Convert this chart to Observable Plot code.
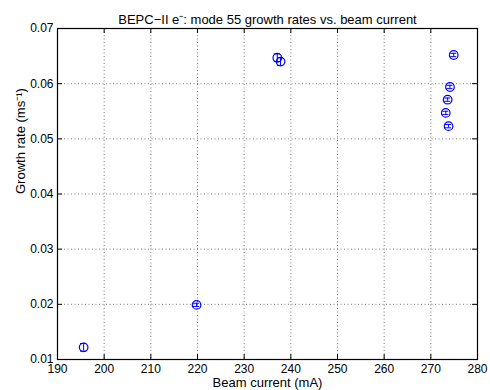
<!DOCTYPE html>
<html>
<head>
<meta charset="utf-8">
<script src="https://cdn.jsdelivr.net/npm/d3@7"></script>
<script src="https://cdn.jsdelivr.net/npm/@observablehq/plot@0.6"></script>
<style>
  html, body { margin: 0; padding: 0; background: #fff; }
  #chart svg { display: block; font-family: "Liberation Sans", Arial, Helvetica, sans-serif; }
</style>
</head>
<body>
<div id="chart"></div>
<script>
// Measured growth rates of the BEPC-II electron ring, mode 55
const current = [195.6, 219.8, 237.1, 237.8, 274.9, 274.1, 273.6, 273.2, 273.8];
const rate    = [0.0122, 0.0199, 0.0647, 0.0640, 0.0652, 0.0594, 0.0571, 0.0547, 0.0523];
const rateErr = [0.0007, 0.0003, 0.0007, 0.0007, 0.0003, 0.0003, 0.0003, 0.0003, 0.0003];

const xTicks = [190, 200, 210, 220, 230, 240, 250, 260, 270, 280];
const yTicks = [0.01, 0.02, 0.03, 0.04, 0.05, 0.06, 0.07];

const titleText = "BEPC\u2212II e\u207B: mode 55 growth rates vs. beam current";
const xLabel = "Beam current (mA)";
const yLabel = "Growth rate (ms\u207B\u00B9)";

const rows = current.map((c, i) => ({current: c, rate: rate[i], err: rateErr[i]}));

const W = 490, H = 390;
const mT = 28, mB = 31, mL = 57, mR = 13;
const frameH = H - mT - mB, frameW = W - mL - mR;
const tickLen = 5;
const blue = "#0000ff";
const grid = {stroke: "#7a7a7a", strokeDasharray: "1,2.5", strokeWidth: 1};
const capHalf = 0.65; // half cap width in mA

const chart = Plot.plot({
  width: W,
  height: H,
  marginTop: mT, marginBottom: mB, marginLeft: mL, marginRight: mR,
  style: {fontSize: "12px", fontFamily: "Liberation Sans, Arial, Helvetica, sans-serif", color: "#000"},
  x: {domain: [190, 280], ticks: xTicks},
  y: {domain: [0.01, 0.07], ticks: yTicks},
  marks: [
    // dotted grid
    Plot.ruleX(xTicks.slice(1, -1), {...grid}),
    Plot.ruleY(yTicks.slice(1, -1), {...grid}),
    // inward ticks on all four sides
    Plot.tickX(xTicks, {x: d => d, insetTop: frameH - tickLen, stroke: "#000"}),
    Plot.tickX(xTicks, {x: d => d, insetBottom: frameH - tickLen, stroke: "#000"}),
    Plot.tickY(yTicks, {y: d => d, insetRight: frameW - tickLen, stroke: "#000"}),
    Plot.tickY(yTicks, {y: d => d, insetLeft: frameW - tickLen, stroke: "#000"}),
    Plot.frame({stroke: "#000", strokeWidth: 1.2}),
    Plot.axisX({ticks: xTicks, tickSize: 0, tickPadding: 5, tickFormat: d => d, label: null, fontSize: 12}),
    Plot.axisY({ticks: yTicks, tickSize: 0, tickPadding: 4, tickFormat: d => d.toFixed(2), label: null, fontSize: 12}),
    // error bars
    Plot.ruleX(rows, {x: "current", y1: d => d.rate - d.err, y2: d => d.rate + d.err, stroke: blue}),
    Plot.ruleY(rows, {y: d => d.rate - d.err, x1: d => d.current - capHalf, x2: d => d.current + capHalf, stroke: blue}),
    Plot.ruleY(rows, {y: d => d.rate + d.err, x1: d => d.current - capHalf, x2: d => d.current + capHalf, stroke: blue}),
    // data points
    Plot.dot(rows, {x: "current", y: "rate", r: 4.3, stroke: blue, strokeWidth: 1.2, fill: "none"}),
    // title and axis labels
    Plot.text([titleText], {frameAnchor: "top", dy: -14, fontSize: 13}),
    Plot.text([xLabel], {frameAnchor: "bottom", dy: 27, fontSize: 13}),
    Plot.text([yLabel], {frameAnchor: "left", dx: -37, rotate: -90, fontSize: 13})
  ]
});

document.getElementById("chart").appendChild(chart);
</script>
</body>
</html>
